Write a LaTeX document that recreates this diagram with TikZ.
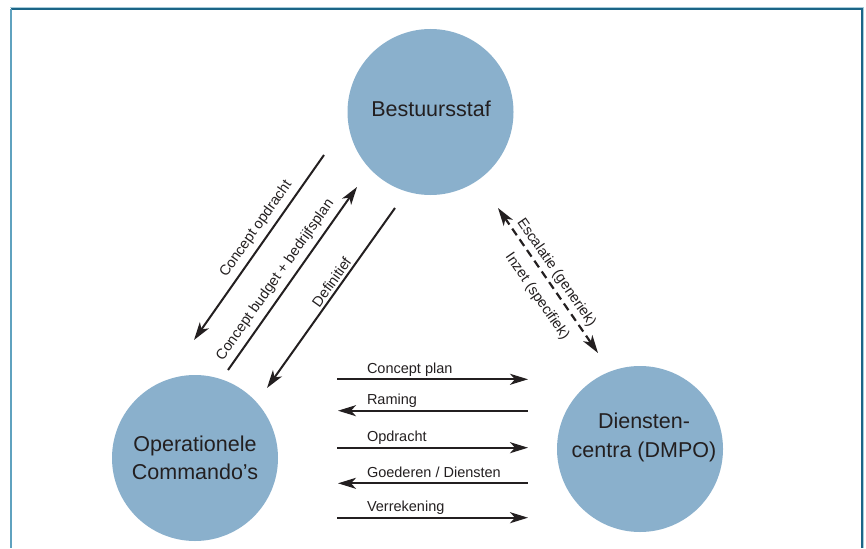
\documentclass[tikz,border=0pt]{standalone}
\usepackage{fontspec}
\setmainfont{Liberation Sans}
\usetikzlibrary{arrows.meta}
\definecolor{disc}{HTML}{8AB0CC}
\definecolor{ink}{HTML}{231F20}
\definecolor{framedark}{HTML}{1B6587}
\definecolor{framelight}{HTML}{5FA2BF}
\definecolor{framepale}{HTML}{A8CCDA}

\begin{document}
\begin{tikzpicture}[x=1pt, y=-1pt,
  disc/.style={circle, fill=disc, minimum size=166pt, inner sep=0pt},
  disctext/.style={text=ink, font=\fontsize{21.5}{28.5}\selectfont, inner sep=0pt},
  lbl/.style={text=ink, font=\fontsize{14.5}{17}\selectfont},
  tip/.tip={Stealth[length=18pt, width=11pt, inset=5pt]},
  flow/.style={draw=ink, line width=2pt, -tip},
  flowback/.style={draw=ink, line width=2pt, tip-},
  flowboth/.style={draw=ink, line width=2.2pt, tip-tip, dash pattern=on 8pt off 5pt}
]
\useasboundingbox (0,0) rectangle (866,548);

% outer frame
\draw[framepale, line width=1.2pt] (10,7.6) -- (863.5,7.6) -- (863.5,548);
\draw[framedark, line width=2pt] (11,9.4) -- (862,9.4) -- (862,548);
\draw[framelight, line width=2.4pt] (11.2,9) -- (11.2,548);

% the three parties
\node[disc] (staf) at (430.5,112) {};
\node[disctext] (staft) at ([shift={(0.5,-3)}]staf.center) {Bestuursstaf};

\node[disc] (opc) at (195,458) {};
\node[disctext, align=center] (opct) at (opc.center) {Operationele\\Commando’s};

\node[disc] (dc) at (640,449) {};
\node[disctext, align=center] (dct) at ([shift={(4,-11.5)}]dc.center) {Diensten-\\centra (DMPO)};

% flows between Bestuursstaf and Operationele Commando's
\coordinate (d1lo) at (194,340);  \coordinate (d1up) at (324,155);
\coordinate (d2lo) at (228,370);  \coordinate (d2up) at (357,187);
\coordinate (d3lo) at (267,388);  \coordinate (d3up) at (395,208);
\draw[flowback] (d1lo) -- node[lbl, sloped, above=2pt, pos=0.56] (t1) {Concept opdracht} (d1up);
\draw[flow] (d2lo) -- node[lbl, sloped, above=2pt, pos=0.45] (t2) {Concept budget + bedrijfsplan} (d2up);
\draw[flowback] (d3lo) -- node[lbl, sloped, above, inner sep=2.5pt, pos=0.56] (t3) {Definitief} (d3up);

% flows between Bestuursstaf and Dienstencentra
\coordinate (e1up) at (498,208);  \coordinate (e1lo) at (598,353);
\draw[flowboth] (e1up) -- node[lbl, sloped, above, pos=0.49] (t4) {Escalatie (generiek)}
                          node[lbl, sloped, below=7pt, pos=0.54] (t5) {Inzet (specifiek)} (e1lo);

% flows between Operationele Commando's and Dienstencentra
\coordinate (h1l) at (337,379.3); \coordinate (h1r) at (528,379.3);
\coordinate (h2l) at (338,410.7); \coordinate (h2r) at (528,410.7);
\coordinate (h3l) at (337,447.7); \coordinate (h3r) at (528,447.7);
\coordinate (h4l) at (338,483.3); \coordinate (h4r) at (528,483.3);
\coordinate (h5l) at (337,517.7); \coordinate (h5r) at (528,517.7);
\tikzset{hl/.style={lbl, pos=0, anchor=base west, inner sep=0pt, xshift=#1, yshift=6pt}}
\draw[flow]     (h1l) -- node[hl=29pt] (t6)  {Concept plan} (h1r);
\draw[flowback] (h2l) -- node[hl=28pt] (t7)  {Raming} (h2r);
\draw[flow]     (h3l) -- node[hl=29pt] (t8)  {Opdracht} (h3r);
\draw[flowback] (h4l) -- node[hl=28pt] (t9)  {Goederen / Diensten} (h4r);
\draw[flow]     (h5l) -- node[hl=29pt] (t10) {Verrekening} (h5r);
\end{tikzpicture}
\end{document}
